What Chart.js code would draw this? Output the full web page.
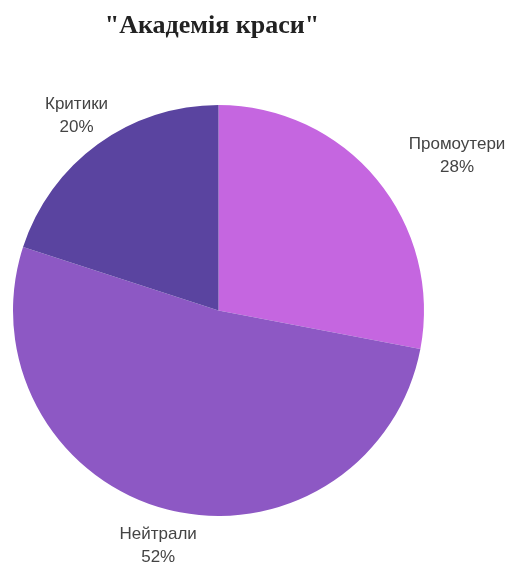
<!DOCTYPE html>
<html><head><meta charset="utf-8">
<script src="https://cdn.jsdelivr.net/npm/chart.js@4"></script>
<style>html,body{margin:0;padding:0;background:#fff}#wrap{width:507px;height:567px}</style>
</head><body><div id="wrap"><canvas id="c" width="507" height="567"></canvas></div>
<script>
const titleText = '"Академія краси"';
const categories = ['Промоутери', 'Нейтрали', 'Критики'];
const values = [28, 52, 20];
const colors = ['#c566e0', '#8d58c4', '#5a44a0'];

const titlePlugin = {
  id: 'titleDraw',
  afterDraw(chart) {
    const ctx = chart.ctx;
    ctx.save();
    ctx.font = 'bold 26px "Liberation Serif"';
    ctx.fillStyle = '#222';
    ctx.textAlign = 'center';
    ctx.textBaseline = 'alphabetic';
    ctx.fillText(titleText, 212, 33);
    ctx.restore();
  }
};
const labelPlugin = {
  id: 'outLabels',
  afterDatasetsDraw(chart) {
    const ctx = chart.ctx;
    const meta = chart.getDatasetMeta(0);
    const total = values.reduce((a, b) => a + b, 0);
    const extra = [79, 37, 36];
    const angAdj = [0.115, 0, 0];
    ctx.save();
    ctx.font = '17px "Liberation Sans"';
    ctx.fillStyle = '#444';
    ctx.textAlign = 'center';
    ctx.textBaseline = 'middle';
    meta.data.forEach((arc, i) => {
      const p = arc.getProps(['x', 'y', 'startAngle', 'endAngle', 'outerRadius'], true);
      const a = (p.startAngle + p.endAngle) / 2 + angAdj[i];
      const r = p.outerRadius + extra[i];
      const x = p.x + Math.cos(a) * r;
      const y = p.y + Math.sin(a) * r;
      ctx.fillText(categories[i], x, y - 11);
      ctx.fillText(Math.round(values[i] / total * 100) + '%', x, y + 12);
    });
    ctx.restore();
  }
};

new Chart(document.getElementById('c'), {
  type: 'pie',
  data: { labels: categories, datasets: [{ data: values, backgroundColor: colors, borderWidth: 0 }] },
  options: {
    responsive: false,
    animation: false,
    layout: { padding: { left: 13, right: 83, top: 105, bottom: 51 } },
    plugins: { legend: { display: false }, tooltip: { enabled: false }, title: { display: false } }
  },
  plugins: [titlePlugin, labelPlugin]
});
</script></body></html>
